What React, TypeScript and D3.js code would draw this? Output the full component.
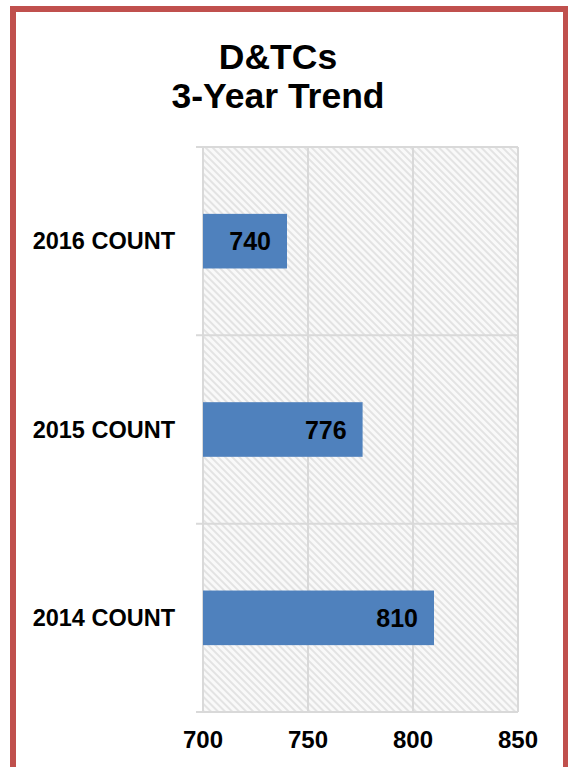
import React from "react";
import * as d3 from "d3";

const categories = ["2016 COUNT", "2015 COUNT", "2014 COUNT"];
const values = [740, 776, 810];
const xTicks = [700, 750, 800, 850];
const titleLines = ["D&TCs", "3-Year Trend"];

const W = 568;
const H = 767;
const plot = { left: 203, right: 518, top: 147, bottom: 712 };
const FONT = "Arial, 'Liberation Sans', Helvetica, sans-serif";

export default function App() {
  const x = d3.scaleLinear().domain([700, 850]).range([plot.left, plot.right]);
  const y = d3
    .scaleBand<string>()
    .domain(categories)
    .range([plot.top, plot.bottom])
    .paddingInner(0)
    .paddingOuter(0);
  const barH = y.bandwidth() * 0.29;
  const boundaries = d3.range(categories.length + 1).map((i) => plot.top + i * y.bandwidth());
  const grid = "#d9d9d9";

  return (
    <svg
      width={W}
      height={H}
      style={{ position: "absolute", left: 0, top: 0, background: "#fff" }}
      fontFamily={FONT}
    >
      <defs>
        <pattern
          id="hatch"
          width="5"
          height="5"
          patternUnits="userSpaceOnUse"
          patternTransform="rotate(-45)"
        >
          <rect width="5" height="5" fill="#f9f9f9" />
          <rect width="2" height="5" fill="#e3e3e3" />
        </pattern>
      </defs>
      <rect x={0} y={0} width={W} height={H} fill="#fff" />
      <rect x={13} y={9} width={553} height={820} fill="none" stroke="#c0504d" strokeWidth={6} />

      {titleLines.map((t, i) => (
        <text
          key={t}
          x={278}
          y={69 + i * 39}
          textAnchor="middle"
          fontSize={35.5}
          fontWeight="bold"
          fill="#000"
        >
          {t}
        </text>
      ))}

      <rect
        x={plot.left}
        y={plot.top}
        width={plot.right - plot.left}
        height={plot.bottom - plot.top}
        fill="url(#hatch)"
      />

      {xTicks.map((t) => (
        <line key={"v" + t} x1={x(t)} x2={x(t)} y1={plot.top} y2={plot.bottom} stroke={grid} strokeWidth={2} />
      ))}
      {boundaries.map((b, i) => (
        <line key={"h" + i} x1={196} x2={plot.right} y1={b} y2={b} stroke={grid} strokeWidth={2} />
      ))}

      {categories.map((c, i) => {
        const yc = (y(c) as number) + y.bandwidth() / 2;
        return (
          <g key={c}>
            <rect
              x={x(700)}
              y={yc - barH / 2}
              width={x(values[i]) - x(700)}
              height={barH}
              fill="#4f81bd"
            />
            <text
              x={x(values[i]) - 16}
              y={yc + 9}
              textAnchor="end"
              fontSize={25}
              fontWeight="bold"
              fill="#000"
            >
              {values[i]}
            </text>
            <text x={175} y={yc + 8} textAnchor="end" fontSize={23.5} fontWeight="bold" fill="#000">
              {c}
            </text>
          </g>
        );
      })}

      {xTicks.map((t) => (
        <text key={"t" + t} x={x(t)} y={748} textAnchor="middle" fontSize={24} fontWeight="bold" fill="#000">
          {t}
        </text>
      ))}
    </svg>
  );
}
